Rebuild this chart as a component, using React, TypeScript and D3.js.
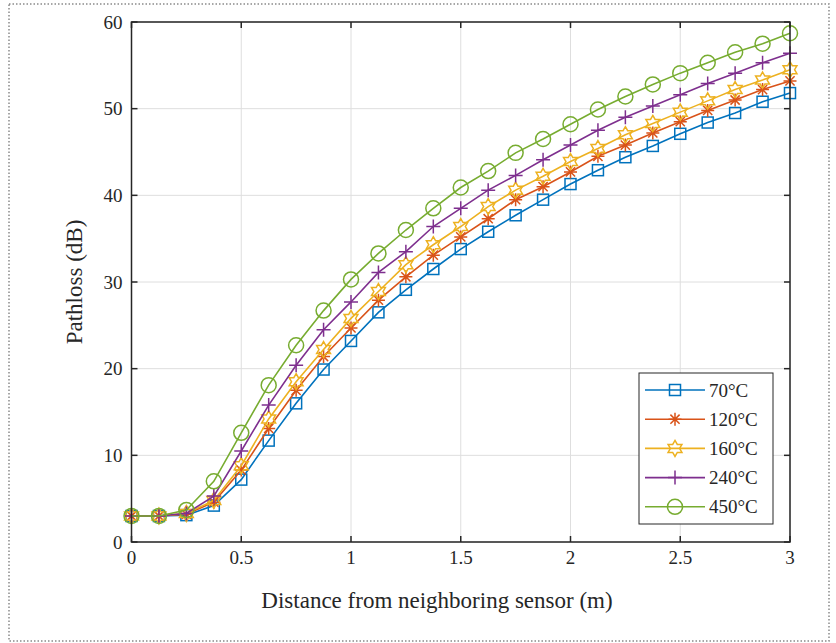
import React, { useEffect, useRef } from "react";
import * as d3 from "d3";

// distance from neighboring sensor (m)
const distances = [
  0, 0.125, 0.25, 0.375, 0.5, 0.625, 0.75, 0.875, 1, 1.125, 1.25, 1.375, 1.5,
  1.625, 1.75, 1.875, 2, 2.125, 2.25, 2.375, 2.5, 2.625, 2.75, 2.875, 3,
];

const loss70 = [
  3.0, 3.0, 3.1, 4.2, 7.2, 11.7, 16.0, 19.9, 23.2, 26.5, 29.1, 31.5, 33.8, 35.8,
  37.7, 39.5, 41.3, 42.9, 44.4, 45.7, 47.1, 48.4, 49.5, 50.8, 51.8,
];
const loss120 = [
  3.0, 3.0, 3.2, 4.6, 8.3, 13.1, 17.5, 21.4, 24.7, 27.9, 30.6, 33.1, 35.2, 37.3,
  39.5, 41.0, 42.7, 44.5, 45.8, 47.2, 48.5, 49.8, 51.0, 52.2, 53.2,
];
const loss160 = [
  3.0, 3.0, 3.3, 4.8, 8.8, 14.2, 18.5, 22.2, 25.8, 28.9, 32.0, 34.3, 36.4, 38.7,
  40.6, 42.2, 43.9, 45.4, 47.0, 48.3, 49.6, 50.9, 52.2, 53.3, 54.5,
];
const loss240 = [
  3.0, 3.0, 3.3, 5.3, 10.5, 15.8, 20.4, 24.5, 27.7, 31.1, 33.5, 36.4, 38.5, 40.6,
  42.3, 44.1, 45.8, 47.5, 49.0, 50.3, 51.6, 52.9, 54.1, 55.3, 56.4,
];
const loss450 = [
  3.0, 3.0, 3.7, 7.0, 12.6, 18.1, 22.7, 26.7, 30.3, 33.3, 36.0, 38.5, 40.9, 42.8,
  44.9, 46.5, 48.2, 49.9, 51.4, 52.8, 54.1, 55.3, 56.5, 57.5, 58.7,
];

const seriesNames = ["70°C", "120°C", "160°C", "240°C", "450°C"];
const seriesValues = [loss70, loss120, loss160, loss240, loss450];
const seriesColors = ["#0072BD", "#D95319", "#EDB120", "#7E2F8E", "#77AC30"];
const seriesMarkers = ["square", "asterisk", "hexagram", "plus", "circle"];

const xTicks = [0, 0.5, 1, 1.5, 2, 2.5, 3];
const yTicks = [0, 10, 20, 30, 40, 50, 60];

const FONT = "Liberation Serif, Times New Roman, serif";

function drawMarker(g: any, kind: string, cx: number, cy: number, color: string) {
  const m = g.append("g").attr("transform", `translate(${cx},${cy})`);
  m.attr("fill", "none").attr("stroke", color).attr("stroke-width", 1.5);
  if (kind === "square") {
    m.append("rect").attr("x", -5.5).attr("y", -5.5).attr("width", 11).attr("height", 11);
  } else if (kind === "circle") {
    m.append("circle").attr("r", 7.5);
  } else if (kind === "plus") {
    m.append("path").attr("d", "M-7,0H7M0,-7V7");
  } else if (kind === "asterisk") {
    m.append("path").attr("d", "M-6.5,0H6.5M0,-6.5V6.5M-4.6,-4.6L4.6,4.6M-4.6,4.6L4.6,-4.6");
  } else if (kind === "hexagram") {
    const pts: [number, number][] = [];
    for (let i = 0; i < 12; i++) {
      const r = i % 2 === 0 ? 8 : 4.6;
      const a = (Math.PI / 6) * i - Math.PI / 2;
      pts.push([r * Math.cos(a), r * Math.sin(a)]);
    }
    m.append("path").attr("d", "M" + pts.map((p) => p.join(",")).join("L") + "Z");
  }
}

const App = () => {
  const ref = useRef<SVGSVGElement>(null);

  useEffect(() => {
    const svg = d3.select(ref.current);
    svg.selectAll("*").remove();

    const left = 131.5,
      right = 790,
      top = 22,
      bottom = 542;

    const x = d3.scaleLinear().domain([0, 3]).range([left, right]);
    const y = d3.scaleLinear().domain([0, 60]).range([bottom, top]);

    // dotted frame round the figure
    svg
      .append("rect")
      .attr("x", 9)
      .attr("y", 4)
      .attr("width", 820)
      .attr("height", 637)
      .attr("fill", "none")
      .attr("stroke", "#8a8a8a")
      .attr("stroke-width", 1.5)
      .attr("stroke-dasharray", "1.5,2");

    // grid
    const grid = svg.append("g").attr("stroke", "#dedede").attr("stroke-width", 1);
    xTicks.forEach((t) => {
      grid.append("line").attr("x1", x(t)).attr("x2", x(t)).attr("y1", top).attr("y2", bottom);
    });
    yTicks.forEach((t) => {
      grid.append("line").attr("x1", left).attr("x2", right).attr("y1", y(t)).attr("y2", y(t));
    });

    // series
    const line = d3
      .line<number>()
      .x((_, i) => x(distances[i]))
      .y((d) => y(d));

    seriesValues.forEach((vals, k) => {
      const g = svg.append("g");
      g.append("path")
        .attr("d", line(vals))
        .attr("fill", "none")
        .attr("stroke", seriesColors[k])
        .attr("stroke-width", 1.6);
      vals.forEach((v, i) => {
        drawMarker(g, seriesMarkers[k], x(distances[i]), y(v), seriesColors[k]);
      });
    });

    // box and inward ticks (MATLAB style)
    const axes = svg.append("g").attr("stroke", "#262626").attr("stroke-width", 1.5);
    axes
      .append("rect")
      .attr("x", left)
      .attr("y", top)
      .attr("width", right - left)
      .attr("height", bottom - top)
      .attr("fill", "none");
    const tl = 6;
    xTicks.forEach((t) => {
      axes.append("line").attr("x1", x(t)).attr("x2", x(t)).attr("y1", bottom).attr("y2", bottom - tl);
      axes.append("line").attr("x1", x(t)).attr("x2", x(t)).attr("y1", top).attr("y2", top + tl);
    });
    yTicks.forEach((t) => {
      axes.append("line").attr("x1", left).attr("x2", left + tl).attr("y1", y(t)).attr("y2", y(t));
      axes.append("line").attr("x1", right).attr("x2", right - tl).attr("y1", y(t)).attr("y2", y(t));
    });

    // tick labels
    const labels = svg
      .append("g")
      .attr("font-family", FONT)
      .attr("font-size", 19)
      .attr("fill", "#262626");
    xTicks.forEach((t) => {
      labels
        .append("text")
        .attr("x", x(t))
        .attr("y", bottom + 22)
        .attr("text-anchor", "middle")
        .text(d3.format("~g")(t));
    });
    yTicks.forEach((t) => {
      labels
        .append("text")
        .attr("x", left - 9)
        .attr("y", y(t))
        .attr("dy", "0.35em")
        .attr("text-anchor", "end")
        .text(t);
    });

    // axis titles
    svg
      .append("text")
      .attr("x", 437)
      .attr("y", bottom + 66)
      .attr("text-anchor", "middle")
      .attr("font-family", FONT)
      .attr("font-size", 23)
      .attr("fill", "#262626")
      .text("Distance from neighboring sensor (m)");
    svg
      .append("text")
      .attr("transform", `translate(${left - 50},${(top + bottom) / 2}) rotate(-90)`)
      .attr("text-anchor", "middle")
      .attr("font-family", FONT)
      .attr("font-size", 23)
      .attr("fill", "#262626")
      .text("Pathloss (dB)");

    // legend
    const lg = svg.append("g");
    lg.append("rect")
      .attr("x", 639)
      .attr("y", 373)
      .attr("width", 134)
      .attr("height", 151)
      .attr("fill", "white")
      .attr("stroke", "#262626")
      .attr("stroke-width", 1);
    seriesNames.forEach((name, k) => {
      const ly = 390 + k * 29.2;
      lg.append("line")
        .attr("x1", 645)
        .attr("x2", 705)
        .attr("y1", ly)
        .attr("y2", ly)
        .attr("stroke", seriesColors[k])
        .attr("stroke-width", 1.6);
      drawMarker(lg, seriesMarkers[k], 675, ly, seriesColors[k]);
      lg.append("text")
        .attr("x", 709)
        .attr("y", ly)
        .attr("dy", "0.35em")
        .attr("font-family", FONT)
        .attr("font-size", 19)
        .attr("fill", "#262626")
        .text(name);
    });
  }, []);

  return (
    <svg
      ref={ref}
      width={836}
      height={643}
      style={{ position: "absolute", left: 0, top: 0, background: "white" }}
    />
  );
};

export default App;
